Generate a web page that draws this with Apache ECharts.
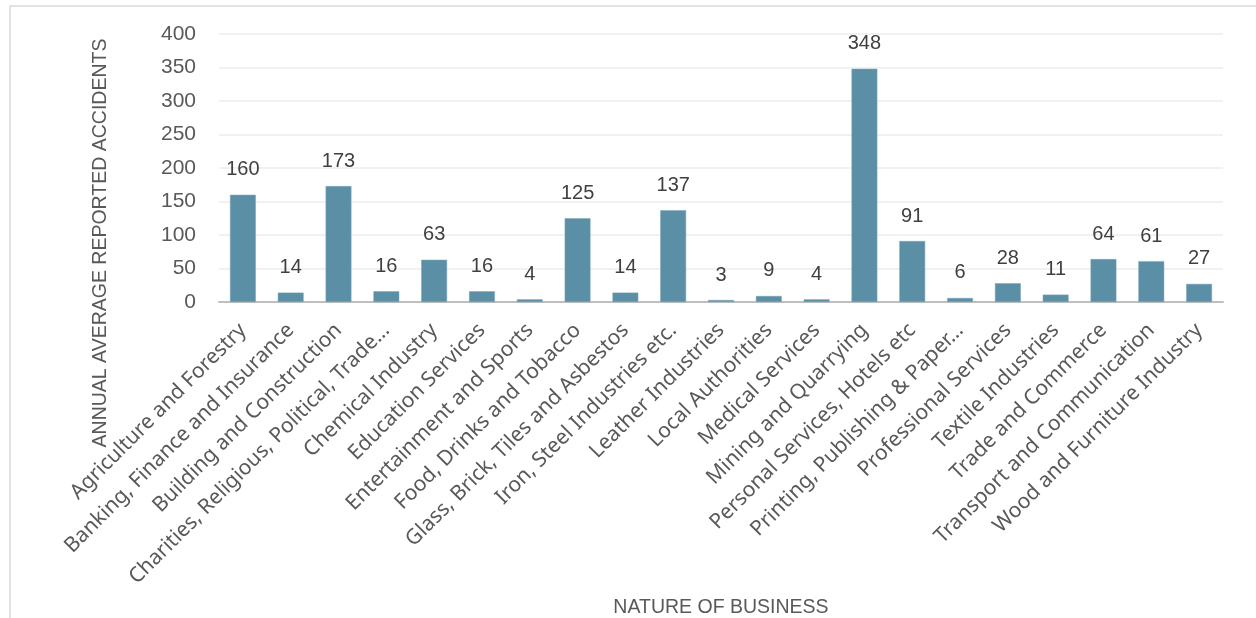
<!DOCTYPE html>
<html>
<head>
<meta charset="utf-8">
<script src="https://cdn.jsdelivr.net/npm/echarts@6/dist/echarts.min.js"></script>
<style>
html,body{margin:0;padding:0;background:#fff;}
#chart{width:1256px;height:618px;}
</style>
</head>
<body>
<div id="chart"></div>
<script>
const categories = [
  "Agriculture and Forestry",
  "Banking, Finance and Insurance",
  "Building and Construction",
  "Charities, Religious, Political, Trade…",
  "Chemical Industry",
  "Education Services",
  "Entertainment and Sports",
  "Food, Drinks and Tobacco",
  "Glass, Brick, Tiles and Asbestos",
  "Iron, Steel Industries etc.",
  "Leather Industries",
  "Local Authorities",
  "Medical Services",
  "Mining and Quarrying",
  "Personal Services, Hotels etc",
  "Printing, Publishing & Paper…",
  "Professional Services",
  "Textile Industries",
  "Trade and Commerce",
  "Transport and Communication",
  "Wood and Furniture Industry"
];
const accidents = [160, 14, 173, 16, 63, 16, 4, 125, 14, 137, 3, 9, 4, 348, 91, 6, 28, 11, 64, 61, 27];
const yTitle = "ANNUAL AVERAGE REPORTED ACCIDENTS";
const xTitle = "NATURE OF BUSINESS";

const chart = echarts.init(document.getElementById('chart'), null, {renderer: 'canvas'});
chart.setOption({
  animation: false,
  backgroundColor: '#ffffff',
  graphic: [
    {type: 'rect', shape: {x: 10, y: 6, width: 1300, height: 700},
     style: {fill: 'none', stroke: '#d9d9d9', lineWidth: 1.5}, silent: true},
    {type: 'text', x: 101, y: 243, rotation: Math.PI / 2,
     style: {text: yTitle, fill: '#595959', font: '19.5px "Liberation Sans", Arial, sans-serif',
             align: 'center', verticalAlign: 'middle'}}
  ],
  grid: {left: 219, right: 33, top: 34, bottom: 316, containLabel: false, outerBoundsMode: 'none'},
  xAxis: {
    type: 'category',
    data: categories,
    name: xTitle,
    nameLocation: 'middle',
    nameGap: 296,
    nameTextStyle: {color: '#595959', fontSize: 19.5, fontFamily: '"Liberation Sans", Arial, sans-serif'},
    axisLine: {show: true, lineStyle: {color: '#bfbfbf', width: 2}},
    axisTick: {show: false},
    axisLabel: {rotate: 45, interval: 0, margin: 25, color: '#595959', fontSize: 21,
                fontFamily: '"Noto Sans", "Open Sans", sans-serif'}
  },
  yAxis: {
    type: 'value',
    min: 0, max: 400, interval: 50,
    axisLine: {show: false},
    axisTick: {show: false},
    splitLine: {lineStyle: {color: '#ececec', width: 1.5}},
    axisLabel: {color: '#595959', fontSize: 21, margin: 23,
                fontFamily: '"Liberation Sans", Arial, sans-serif'}
  },
  series: [{
    type: 'bar',
    data: accidents,
    barCategoryGap: '46%',
    itemStyle: {color: '#5b8fa6', borderColor: '#7aa6bb', borderWidth: 0.5},
    label: {show: true, position: 'top', distance: 15, color: '#404040', fontSize: 20,
            fontFamily: '"Liberation Sans", Arial, sans-serif'}
  }]
});
</script>
</body>
</html>
